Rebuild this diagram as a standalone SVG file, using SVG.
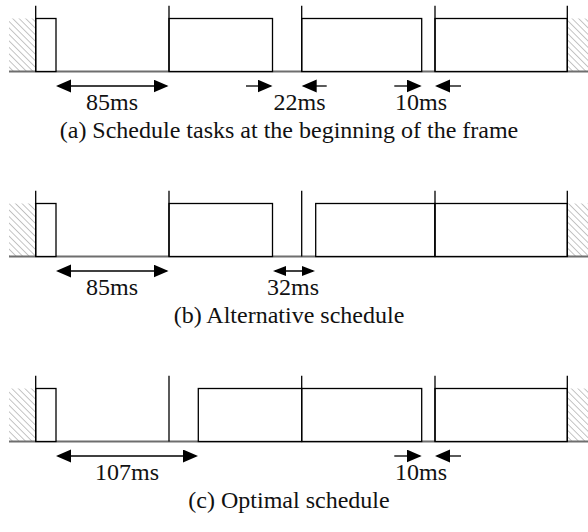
<svg xmlns="http://www.w3.org/2000/svg" width="588" height="532" viewBox="0 0 588 532">
  <style>
    .task { fill: #fff; stroke: #000; stroke-width: 1.3; }
    .tick { stroke: #000; stroke-width: 1.3; }
    .axis { stroke: #6e6e6e; stroke-width: 1.8; }
    .hatch { fill: url(#diag); }
    .dim { stroke: #000; stroke-width: 1.3; fill: none; }
    .arr { marker-end: url(#head); }
    .arr2 { marker-start: url(#head); marker-end: url(#head); }
    .arr2s { marker-start: url(#headSmall); marker-end: url(#headSmall); }
    text { font-family: "Liberation Serif", "Times New Roman", serif; font-size: 24px; fill: #111; }
    .lbl { text-anchor: middle; }
    .cap { text-anchor: middle; }
  </style>
  <defs>
    <pattern id="diag" patternUnits="userSpaceOnUse" width="4.6" height="10" patternTransform="rotate(-45)">
      <line x1="0" y1="0" x2="0" y2="10" stroke="#8a8a8a" stroke-width="1"/>
    </pattern>
    <marker id="head" markerUnits="userSpaceOnUse" markerWidth="16" markerHeight="14" refX="13" refY="6.5" orient="auto-start-reverse">
      <path d="M0,0 L15,6.5 L0,13 z" fill="#000"/>
    </marker>
    <marker id="headSmall" markerUnits="userSpaceOnUse" markerWidth="14" markerHeight="11" refX="11" refY="5" orient="auto-start-reverse">
      <path d="M0,0 L13,5 L0,10 z" fill="#000"/>
    </marker>
  </defs>

  <!-- (a) tasks packed at the start of each frame -->
  <g id="panel-a">
    <rect class="hatch" x="9" y="18.5" width="26.7" height="53"/>
    <rect class="hatch" x="567.3" y="18.5" width="21" height="53"/>
    <line class="axis" x1="9" y1="71.5" x2="588" y2="71.5"/>
    <g id="a-task1"><rect class="task" x="35.7" y="18.5" width="20.3" height="53"/></g>
    <g id="a-task2"><rect class="task" x="169" y="18.5" width="103.5" height="53"/></g>
    <g id="a-task3"><rect class="task" x="301.7" y="18.5" width="120" height="53"/></g>
    <g id="a-task4"><rect class="task" x="435" y="18.5" width="132.3" height="53"/></g>
    <g id="a-ticks">
      <line class="tick" x1="35.7" y1="5.7" x2="35.7" y2="71.5"/>
      <line class="tick" x1="169" y1="5.7" x2="169" y2="71.5"/>
      <line class="tick" x1="301.7" y1="5.7" x2="301.7" y2="71.5"/>
      <line class="tick" x1="435" y1="5.7" x2="435" y2="71.5"/>
      <line class="tick" x1="567.3" y1="5.7" x2="567.3" y2="71.5"/>
    </g>
    <text class="lbl" x="112" y="109.5">85ms</text>
    <text class="lbl" x="299.5" y="109.5">22ms</text>
    <text class="lbl" x="421" y="109.5">10ms</text>
    <text class="cap" x="289" y="138">(a) Schedule tasks at the beginning of the frame</text>
  </g>

  <!-- (b) alternative placement -->
  <g id="panel-b">
    <rect class="hatch" x="9" y="203.5" width="26.7" height="53"/>
    <rect class="hatch" x="567.3" y="203.5" width="21" height="53"/>
    <line class="axis" x1="9" y1="256.5" x2="588" y2="256.5"/>
    <g id="b-task1"><rect class="task" x="35.7" y="203.5" width="20.3" height="53"/></g>
    <g id="b-task2"><rect class="task" x="169" y="203.5" width="103.5" height="53"/></g>
    <g id="b-task3"><rect class="task" x="315.7" y="203.5" width="119.3" height="53"/></g>
    <g id="b-task4"><rect class="task" x="435" y="203.5" width="132.3" height="53"/></g>
    <g id="b-ticks">
      <line class="tick" x1="35.7" y1="190.7" x2="35.7" y2="256.5"/>
      <line class="tick" x1="169" y1="190.7" x2="169" y2="256.5"/>
      <line class="tick" x1="301.7" y1="190.7" x2="301.7" y2="256.5"/>
      <line class="tick" x1="435" y1="190.7" x2="435" y2="256.5"/>
      <line class="tick" x1="567.3" y1="190.7" x2="567.3" y2="256.5"/>
    </g>
    <text class="lbl" x="112" y="294.5">85ms</text>
    <text class="lbl" x="293" y="294.5">32ms</text>
    <text class="cap" x="289" y="323">(b) Alternative schedule</text>
  </g>

  <!-- (c) optimal placement -->
  <g id="panel-c">
    <rect class="hatch" x="9" y="388.5" width="26.7" height="53"/>
    <rect class="hatch" x="567.3" y="388.5" width="21" height="53"/>
    <line class="axis" x1="9" y1="441.5" x2="588" y2="441.5"/>
    <g id="c-task1"><rect class="task" x="35.7" y="388.5" width="20.3" height="53"/></g>
    <g id="c-task2"><rect class="task" x="198.3" y="388.5" width="103.4" height="53"/></g>
    <g id="c-task3"><rect class="task" x="301.7" y="388.5" width="120" height="53"/></g>
    <g id="c-task4"><rect class="task" x="435" y="388.5" width="132.3" height="53"/></g>
    <g id="c-ticks">
      <line class="tick" x1="35.7" y1="375.7" x2="35.7" y2="441.5"/>
      <line class="tick" x1="169" y1="375.7" x2="169" y2="441.5"/>
      <line class="tick" x1="301.7" y1="375.7" x2="301.7" y2="441.5"/>
      <line class="tick" x1="435" y1="375.7" x2="435" y2="441.5"/>
      <line class="tick" x1="567.3" y1="375.7" x2="567.3" y2="441.5"/>
    </g>
    <text class="lbl" x="127" y="479.5">107ms</text>
    <text class="lbl" x="421" y="479.5">10ms</text>
    <text class="cap" x="289" y="508">(c) Optimal schedule</text>
  </g>

  <!-- dimension arrows -->
  <g id="connectors">
    <line class="dim arr2" x1="58" y1="86" x2="166.5" y2="86"/>
    <line class="dim arr" x1="246" y1="86" x2="270.5" y2="86"/>
    <line class="dim arr" x1="326.7" y1="86" x2="303.7" y2="86"/>
    <line class="dim arr" x1="394.3" y1="86" x2="419.7" y2="86"/>
    <line class="dim arr" x1="461" y1="86" x2="437" y2="86"/>

    <line class="dim arr2" x1="58" y1="271" x2="166.5" y2="271"/>
    <line class="dim arr2s" x1="275" y1="271" x2="313" y2="271"/>

    <line class="dim arr2" x1="58" y1="456" x2="196" y2="456"/>
    <line class="dim arr" x1="394.3" y1="456" x2="419.7" y2="456"/>
    <line class="dim arr" x1="461" y1="456" x2="437" y2="456"/>
  </g>
</svg>
